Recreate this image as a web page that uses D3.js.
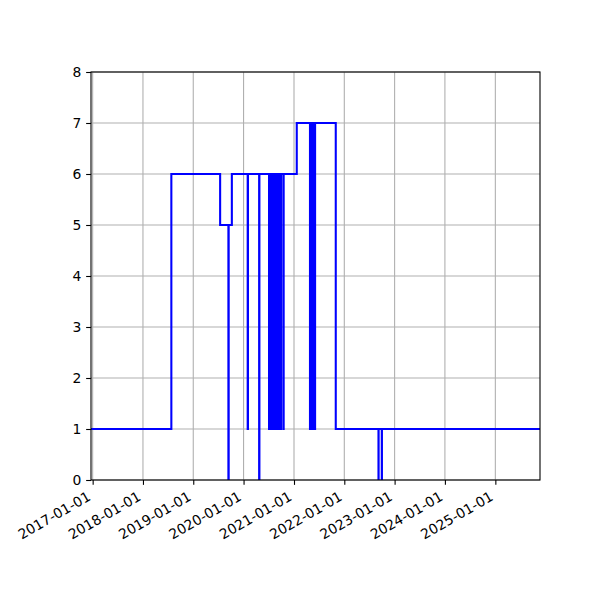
<!DOCTYPE html>
<html>
<head>
<meta charset="utf-8">
<script src="https://cdn.jsdelivr.net/npm/d3@7"></script>
<style>
  body { margin: 0; background: #fff; }
  text { font-family: "DejaVu Sans", sans-serif; font-size: 13.9px; fill: #000; }
</style>
</head>
<body>
<svg id="chartSvg" width="600" height="600"></svg>
<script>
// step data: each value holds until the next date
var stepDates = [
    "2016-12-20", "2018-07-26", "2019-07-15", "2019-09-13", "2019-09-15", "2019-10-08",
    "2020-01-31", "2020-02-02", "2020-04-23", "2020-04-25",
    "2020-07-04", "2020-07-06", "2020-07-08", "2020-07-10", "2020-07-12", "2020-07-14",
    "2020-07-16", "2020-07-18", "2020-07-20", "2020-07-22", "2020-07-24", "2020-07-26",
    "2020-07-28", "2020-07-30", "2020-08-01", "2020-08-03", "2020-08-05", "2020-08-07",
    "2020-08-09", "2020-08-11", "2020-08-13", "2020-08-15", "2020-08-17", "2020-08-19",
    "2020-08-21", "2020-08-23", "2020-08-25", "2020-08-27", "2020-08-29", "2020-08-31",
    "2020-09-02", "2020-09-08", "2020-09-10", "2020-09-12", "2020-09-14", "2020-09-16",
    "2020-09-18", "2020-09-20", "2020-09-22", "2020-09-24", "2020-09-26", "2020-09-29",
    "2020-10-16", "2020-10-18", "2021-01-21",
    "2021-04-27", "2021-04-29", "2021-05-01", "2021-05-03", "2021-05-05", "2021-05-07",
    "2021-05-09", "2021-05-11", "2021-05-13", "2021-05-15", "2021-05-17", "2021-05-19",
    "2021-05-21", "2021-05-23", "2021-05-25", "2021-05-27", "2021-05-29", "2021-06-03",
    "2021-10-31", "2022-09-06", "2022-09-07", "2022-09-30", "2022-10-01", "2025-11-21"
];
var stepValues = [
    1, 6, 5, 0, 5, 6,
    1, 6, 0, 6,
    1, 6, 1, 6, 1, 6,
    1, 6, 1, 6, 1, 6,
    1, 6, 1, 6, 1, 6,
    1, 6, 1, 6, 1, 6,
    1, 6, 1, 6, 1, 6,
    1, 6, 1, 6, 1, 6,
    1, 6, 1, 6, 1, 6,
    1, 6, 7,
    1, 7, 1, 7, 1, 7,
    1, 7, 1, 7, 1, 7,
    1, 7, 1, 7, 1, 7,
    1, 0, 1, 0, 1, 1
];
var yTicks = [0, 1, 2, 3, 4, 5, 6, 7, 8];
var xTickLabels = ["2017-01-01", "2018-01-01", "2019-01-01", "2020-01-01", "2021-01-01",
    "2022-01-01", "2023-01-01", "2024-01-01", "2025-01-01"];
var xDomain = ["2016-12-20", "2025-11-21"];

var svg = d3.select("#chartSvg");
var plotLeft = 91, plotRight = 540, plotTop = 72, plotBottom = 480;
var parse = d3.timeParse("%Y-%m-%d");

var xScale = d3.scaleTime().domain(xDomain.map(parse)).range([plotLeft, plotRight]);
var yScale = d3.scaleLinear().domain([0, 8]).range([plotBottom, plotTop]);

var points = stepDates.map(function (d, i) { return [parse(d), stepValues[i]]; });

// grid
svg.append("g").selectAll("line").data(xTickLabels).enter()
    .append("line")
    .attr("x1", function (d) { return xScale(parse(d)); })
    .attr("x2", function (d) { return xScale(parse(d)); })
    .attr("y1", plotTop).attr("y2", plotBottom)
    .attr("stroke", "#b0b0b0").attr("stroke-width", 1.1);
svg.append("g").selectAll("line").data(yTicks).enter()
    .append("line")
    .attr("x1", plotLeft).attr("x2", plotRight)
    .attr("y1", function (d) { return yScale(d); })
    .attr("y2", function (d) { return yScale(d); })
    .attr("stroke", "#b0b0b0").attr("stroke-width", 1.1);

// step line
svg.append("defs").append("clipPath").attr("id", "plotClip")
    .append("rect").attr("x", plotLeft).attr("y", plotTop)
    .attr("width", plotRight - plotLeft).attr("height", plotBottom - plotTop);

var lineFun = d3.line()
    .x(function (d) { return xScale(d[0]); })
    .y(function (d) { return yScale(d[1]); })
    .curve(d3.curveStepAfter);

svg.append("path")
    .datum(points)
    .attr("d", lineFun)
    .attr("clip-path", "url(#plotClip)")
    .attr("stroke", "blue")
    .attr("stroke-width", 2.08)
    .attr("stroke-linejoin", "miter")
    .attr("fill", "none");

// axes
var xAxis = d3.axisBottom(xScale)
    .tickValues(xTickLabels.map(parse))
    .tickFormat(d3.timeFormat("%Y-%m-%d"))
    .tickSizeOuter(0).tickSize(4.86).tickPadding(4.86);
var gx = svg.append("g").attr("transform", "translate(0," + plotBottom + ")").call(xAxis);
gx.select(".domain").remove();
gx.selectAll(".tick line").attr("stroke", "#000").attr("stroke-width", 1.1);
gx.selectAll(".tick text")
    .attr("font-size", null).attr("font-family", null)
    .attr("text-anchor", "end")
    .attr("dy", null)
    .attr("y", 0)
    .attr("transform", "translate(-1.6,19.4) rotate(-30)");

var yAxis = d3.axisLeft(yScale)
    .tickValues(yTicks)
    .tickSizeOuter(0).tickSize(4.86).tickPadding(4.86);
var gy = svg.append("g").attr("transform", "translate(" + plotLeft + ",0)").call(yAxis);
gy.select(".domain").remove();
gy.selectAll(".tick line").attr("stroke", "#000").attr("stroke-width", 1.1);
gy.selectAll(".tick text").attr("font-size", null).attr("font-family", null);

// frame
svg.append("rect")
    .attr("x", plotLeft).attr("y", plotTop)
    .attr("width", plotRight - plotLeft).attr("height", plotBottom - plotTop)
    .attr("fill", "none").attr("stroke", "#000").attr("stroke-width", 1.1);
</script>
</body>
</html>
